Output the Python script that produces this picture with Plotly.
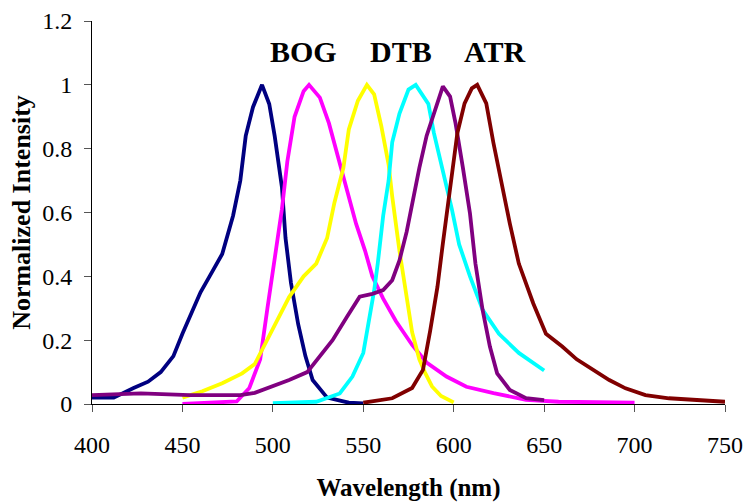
import plotly.graph_objects as go

# ---- data ----
navy_x = [400, 412, 423, 431, 438, 445, 450, 454, 460, 465, 472, 478, 482, 485, 489, 494, 498, 501, 505, 507, 510, 514, 518, 522, 530, 542, 550]
navy_y = [0.02, 0.02, 0.05, 0.07, 0.10, 0.15, 0.22, 0.27, 0.35, 0.40, 0.47, 0.59, 0.70, 0.84, 0.93, 1.00, 0.94, 0.84, 0.68, 0.52, 0.38, 0.25, 0.15, 0.075, 0.02, 0.004, 0.002]

magenta_x = [450, 465, 480, 487, 493, 497, 501, 505, 508, 512, 517, 520, 526, 531, 536, 541, 546, 551, 555, 561, 568, 577, 585, 596, 607, 622, 640, 658, 680, 700]
magenta_y = [0.0, 0.003, 0.008, 0.05, 0.14, 0.30, 0.46, 0.61, 0.76, 0.90, 0.98, 1.0, 0.96, 0.88, 0.775, 0.67, 0.565, 0.48, 0.40, 0.33, 0.26, 0.185, 0.13, 0.086, 0.054, 0.034, 0.013, 0.007, 0.005, 0.004]

yellow_x = [450, 461, 472, 483, 490, 495, 502, 509, 517, 524, 530, 534, 539, 542, 547, 552, 556, 560, 564, 566, 570, 574, 577, 581, 584, 588, 593, 600]
yellow_y = [0.02, 0.04, 0.065, 0.096, 0.125, 0.18, 0.26, 0.335, 0.40, 0.44, 0.52, 0.63, 0.74, 0.86, 0.95, 1.0, 0.97, 0.87, 0.75, 0.65, 0.48, 0.34, 0.225, 0.14, 0.10, 0.055, 0.025, 0.005]

cyan_x = [500, 524, 537, 544, 550, 553, 556, 558, 561, 564, 566, 570, 575, 579, 584, 586, 589, 594, 599, 603, 609, 616, 625, 636, 650]
cyan_y = [0.003, 0.007, 0.033, 0.086, 0.16, 0.25, 0.355, 0.44, 0.59, 0.70, 0.82, 0.91, 0.985, 1.0, 0.96, 0.94, 0.85, 0.73, 0.61, 0.50, 0.40, 0.295, 0.22, 0.16, 0.105]

purple_x = [400, 427, 454, 482, 490, 498, 509, 519, 526, 533, 541, 548, 555, 561, 566, 570, 574, 577, 581, 585, 588, 592, 594, 598, 601, 605, 609, 612, 616, 620, 624, 631, 640, 650]
purple_y = [0.028, 0.033, 0.028, 0.028, 0.035, 0.052, 0.075, 0.10, 0.148, 0.20, 0.273, 0.336, 0.345, 0.357, 0.388, 0.45, 0.54, 0.63, 0.74, 0.84, 0.89, 0.963, 0.995, 0.963, 0.88, 0.743, 0.597, 0.44, 0.294, 0.18, 0.096, 0.044, 0.018, 0.012]

darkred_x = [550, 566, 577, 583, 587, 591, 594, 597, 600, 602, 606, 610, 613, 618, 622, 626, 631, 636, 644, 651, 660, 668, 677, 686, 695, 706, 719, 736, 750]
darkred_y = [0.004, 0.018, 0.05, 0.107, 0.23, 0.367, 0.503, 0.629, 0.743, 0.848, 0.942, 0.989, 1.0, 0.942, 0.817, 0.70, 0.566, 0.44, 0.315, 0.22, 0.18, 0.14, 0.107, 0.075, 0.049, 0.028, 0.018, 0.012, 0.007]

series = [
    ("navy", navy_x, navy_y, "#000080"),
    ("magenta", magenta_x, magenta_y, "#FF00FF"),
    ("yellow", yellow_x, yellow_y, "#FFFF00"),
    ("cyan", cyan_x, cyan_y, "#00FFFF"),
    ("purple", purple_x, purple_y, "#800080"),
    ("darkred", darkred_x, darkred_y, "#800000"),
]

label_text = ["BOG", "DTB", "ATR"]
label_x = [517, 571, 622.5]
label_y = [1.103, 1.103, 1.103]

x_ticks = [400, 450, 500, 550, 600, 650, 700, 750]
y_ticks = [0, 0.2, 0.4, 0.6, 0.8, 1.0, 1.2]
y_ticktext = ["0", "0.2", "0.4", "0.6", "0.8", "1", "1.2"]

FONT = "Liberation Serif, Times New Roman, serif"

fig = go.Figure()
for name, xs, ys, col in series:
    fig.add_trace(go.Scatter(x=xs, y=ys, mode="lines", name=name,
                             line=dict(color=col, width=3.8), showlegend=False))

for t, x, y in zip(label_text, label_x, label_y):
    fig.add_annotation(x=x, y=y, text="<b>%s</b>" % t, showarrow=False,
                       font=dict(family=FONT, size=30, color="black"),
                       xanchor="center", yanchor="middle")

fig.update_layout(
    width=744, height=502,
    margin=dict(l=92, r=19, t=21, b=98),
    paper_bgcolor="white", plot_bgcolor="white",
    font=dict(family=FONT, color="black"),
)
fig.update_xaxes(
    range=[400, 750], tickvals=x_ticks, ticktext=[str(v) for v in x_ticks],
    showgrid=False, zeroline=False, showline=True, linecolor="black", linewidth=1,
    ticks="outside", ticklen=7, tickcolor="#555", tickwidth=1, automargin=False,
    tickfont=dict(family=FONT, size=24), ticklabelstandoff=12,
    title=dict(text="<b>Wavelength (nm)</b>", font=dict(family=FONT, size=25), standoff=26),
)
fig.update_yaxes(
    range=[0, 1.2], tickvals=y_ticks, ticktext=y_ticktext,
    showgrid=False, zeroline=False, showline=True, linecolor="black", linewidth=1,
    ticks="outside", ticklen=7, tickcolor="#555", tickwidth=1, automargin=False,
    tickfont=dict(family=FONT, size=24), ticklabelstandoff=7,
    title=dict(text="<b>Normalized Intensity</b>", font=dict(family=FONT, size=26), standoff=4),
)

# remove the default page margin so the figure sits at the window's top-left corner
fig.write_html("out.html", config={"displayModeBar": False},
               post_script="document.body.style.margin='0';")
